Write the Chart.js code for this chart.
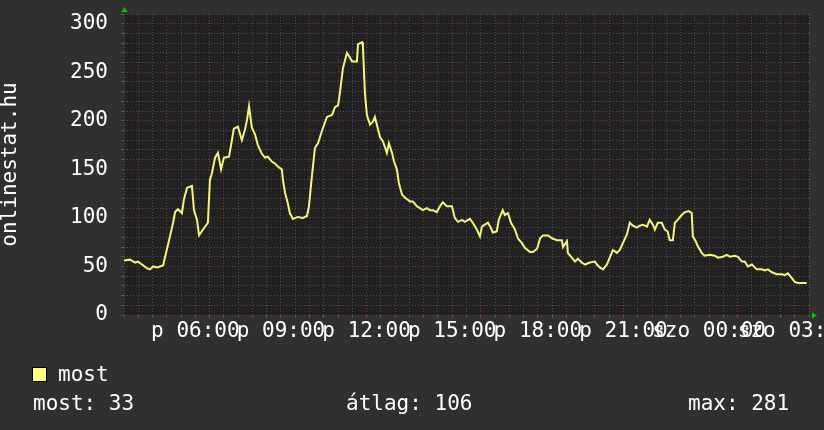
<!DOCTYPE html>
<html>
<head>
<meta charset="utf-8">
<script src="https://cdn.jsdelivr.net/npm/chart.js@4.4.1/dist/chart.umd.min.js"></script>
<style>
  body { margin: 0; background: #303030; }
  #wrap { position: relative; width: 824px; height: 430px; }
  .t { position: absolute; color: #fff; font: 21px 'DejaVu Sans Mono', monospace; line-height: 22px; white-space: pre; }
  .box { position: absolute; left: 32px; top: 367px; width: 13px; height: 13px; background: #ffff80; border: 1px solid #000; }
</style>
</head>
<body>
<div id="wrap">
  <canvas id="graph" width="824" height="430"></canvas>
  <div class="box"></div>
  <div class="t" id="legendName" style="left:58px;top:363px"></div>
  <div class="t" id="statNow" style="left:33px;top:392px"></div>
  <div class="t" id="statAvg" style="left:346px;top:392px"></div>
  <div class="t" id="statMax" style="left:688px;top:392px"></div>
</div>
<script>
// hours since friday 00:00 (values > 24 are saturday)
const hours = [3.50, 3.71, 3.89, 3.99, 4.13, 4.31, 4.41, 4.52, 4.66, 4.87, 4.94, 5.04, 5.11, 5.22, 5.29, 5.39, 5.53, 5.60, 5.71, 5.88,
  5.95, 6.06, 6.13, 6.27, 6.44, 6.51, 6.58, 6.69, 6.79, 6.90, 7.00, 7.18, 7.28, 7.35, 7.49, 7.63, 7.74, 7.81, 7.88, 7.98,
  8.09, 8.19, 8.33, 8.44, 8.54, 8.68, 8.79, 8.89, 9.03, 9.07, 9.14, 9.24, 9.31, 9.42, 9.59, 9.77, 9.91, 9.98, 10.08, 10.19,
  10.30, 10.44, 10.61, 10.79, 10.89, 11.00, 11.07, 11.17, 11.31, 11.42, 11.49, 11.66, 11.70, 11.84, 11.87, 11.94, 12.01, 12.12, 12.22, 12.29,
  12.36, 12.47, 12.57, 12.71, 12.78, 12.89, 12.96, 13.06, 13.13, 13.24, 13.34, 13.52, 13.62, 13.76, 13.87, 13.97, 14.11, 14.22, 14.32, 14.46,
  14.57, 14.67, 14.81, 14.99, 15.09, 15.20, 15.34, 15.44, 15.62, 15.72, 15.86, 15.97, 16.04, 16.14, 16.25, 16.35, 16.42, 16.56, 16.63, 16.77,
  16.84, 16.95, 17.06, 17.20, 17.30, 17.44, 17.55, 17.72, 17.83, 17.97, 18.08, 18.18, 18.36, 18.49, 18.67, 18.84, 18.88, 19.02, 19.05, 19.19,
  19.30, 19.40, 19.54, 19.65, 19.82, 20.00, 20.07, 20.17, 20.28, 20.42, 20.52, 20.63, 20.77, 20.87, 20.98, 21.12, 21.22, 21.33, 21.47, 21.57,
  21.68, 21.82, 21.92, 22.03, 22.10, 22.20, 22.34, 22.45, 22.55, 22.62, 22.73, 22.80, 22.90, 23.04, 23.15, 23.29, 23.39, 23.43, 23.53, 23.60,
  23.74, 23.84, 24.02, 24.20, 24.31, 24.48, 24.62, 24.73, 24.90, 25.01, 25.15, 25.25, 25.36, 25.50, 25.67, 25.85, 25.95, 26.06, 26.20, 26.37,
  26.55, 26.65, 26.76, 26.90, 27.00, 27.11, 27.25, 27.42];
const visitors = [56, 57, 54, 55, 52, 48, 47, 50, 49, 51, 60, 72, 81, 95, 106, 109, 105, 119, 131, 133,
  108, 98, 82, 88, 95, 139, 146, 162, 167, 150, 162, 163, 180, 192, 194, 180, 191, 201, 215, 193,
  186, 175, 166, 162, 163, 158, 156, 153, 150, 139, 126, 115, 105, 99, 101, 100, 102, 112, 142, 172,
  177, 190, 204, 206, 214, 216, 230, 254, 270, 265, 261, 261, 279, 281, 277, 229, 206, 196, 199, 204,
  196, 183, 179, 167, 177, 167, 158, 150, 136, 124, 121, 117, 117, 112, 110, 108, 110, 108, 108, 106,
  112, 116, 112, 112, 100, 96, 98, 96, 99, 95, 88, 81, 91, 93, 95, 90, 85, 86, 98, 108,
  103, 105, 95, 88, 79, 74, 69, 65, 65, 68, 79, 82, 82, 79, 77, 77, 70, 76, 64, 59,
  55, 58, 54, 52, 54, 55, 52, 49, 47, 52, 59, 67, 64, 67, 74, 83, 95, 92, 90, 92,
  93, 91, 98, 93, 88, 95, 95, 88, 86, 77, 77, 95, 98, 103, 106, 107, 105, 81, 76, 71,
  64, 61, 62, 61, 59, 60, 62, 60, 61, 60, 55, 55, 50, 52, 47, 47, 46, 47, 44, 42,
  42, 41, 43, 38, 34, 33, 33, 33];

const dayNames = ['p', 'szo'];
const yLabels = [0, 50, 100, 150, 200, 250, 300];
const seriesName = 'most';
const statNames = ['most', 'átlag', 'max'];
const statValues = [33, 106, 281];

const xMin = 3.5, xMax = 27.5, yMax = 310;
const monoFont = { family: "'DejaVu Sans Mono', monospace", size: 21, lineHeight: 1.05 };
const minorGrid = '#505050';
const majorGrid = '#743838';

document.getElementById('legendName').textContent = seriesName;
document.getElementById('statNow').textContent = statNames[0] + ': ' + statValues[0];
document.getElementById('statAvg').textContent = statNames[1] + ': ' + statValues[1];
document.getElementById('statMax').textContent = statNames[2] + ': ' + statValues[2];

const plotBg = {
  id: 'plotBg',
  beforeDraw(chart) {
    const {ctx, chartArea: a} = chart;
    ctx.save();
    ctx.fillStyle = '#212121';
    ctx.fillRect(a.left, a.top, a.right - a.left, a.bottom - a.top);
    ctx.restore();
  },
  afterDraw(chart) {
    const {ctx, chartArea: a} = chart;
    ctx.save();
    ctx.fillStyle = '#00c800';
    ctx.beginPath();
    ctx.moveTo(a.left + 0.5, a.top - 7);
    ctx.lineTo(a.left - 2.5, a.top - 2);
    ctx.lineTo(a.left + 3.5, a.top - 2);
    ctx.fill();
    ctx.beginPath();
    ctx.moveTo(a.right + 8, a.bottom + 0.5);
    ctx.lineTo(a.right + 3, a.bottom - 2.5);
    ctx.lineTo(a.right + 3, a.bottom + 3.5);
    ctx.fill();
    ctx.restore();
  }
};

const xTicks = [];
for (let v = xMin; v <= xMax; v += 0.5) xTicks.push(v);
const yTicks = [];
for (let v = 0; v <= yMax; v += 10) yTicks.push(v);

new Chart(document.getElementById('graph'), {
  type: 'line',
  data: {
    datasets: [{
      label: seriesName,
      data: hours.map((h, i) => ({ x: h, y: visitors[i] })),
      borderColor: '#f4f47c',
      borderWidth: 2,
      pointRadius: 0,
      tension: 0,
      fill: false
    }]
  },
  options: {
    responsive: false,
    animation: false,
    layout: { padding: { top: 14, right: 15, left: 0, bottom: 0 } },
    plugins: { legend: { display: false }, tooltip: { enabled: false } },
    scales: {
      x: {
        type: 'linear',
        min: xMin,
        max: xMax,
        afterFit: s => { s.height = 115; s.paddingLeft = 0; s.paddingRight = 0; },
        afterBuildTicks: s => { s.ticks = xTicks.map(v => ({ value: v })); },
        grid: {
          color: c => (c.tick && c.tick.value % 1 === 0) ? majorGrid : minorGrid,
          tickColor: c => (c.tick && c.tick.value % 1 === 0) ? '#8a3a3a' : '#555555',
          tickLength: 3
        },
        border: { display: false, dash: [1, 2] },
        ticks: {
          autoSkip: false,
          maxRotation: 0,
          padding: 3,
          color: '#ffffff',
          font: monoFont,
          callback: v => {
            if (v % 3 !== 0) return '';
            const day = dayNames[v < 24 ? 0 : 1];
            return day + ' ' + String(v % 24).padStart(2, '0') + ':00';
          }
        }
      },
      y: {
        min: 0,
        max: yMax,
        afterFit: s => { s.width = 124; s.paddingTop = 0; s.paddingBottom = 0; },
        afterBuildTicks: s => { s.ticks = yTicks.map(v => ({ value: v })); },
        grid: {
          color: c => (c.tick && c.tick.value % 50 === 0) ? majorGrid : minorGrid,
          tickColor: c => (c.tick && c.tick.value % 50 === 0) ? '#8a3a3a' : '#555555',
          tickLength: 3
        },
        border: { display: false, dash: [1, 2] },
        title: { display: true, text: 'onlinestat.hu', color: '#ffffff', font: monoFont, padding: 0 },
        ticks: {
          autoSkip: false,
          padding: 13,
          color: '#ffffff',
          font: monoFont,
          callback: v => yLabels.includes(v) ? String(v) : ''
        }
      }
    }
  },
  plugins: [plotBg]
});
</script>
</body>
</html>
